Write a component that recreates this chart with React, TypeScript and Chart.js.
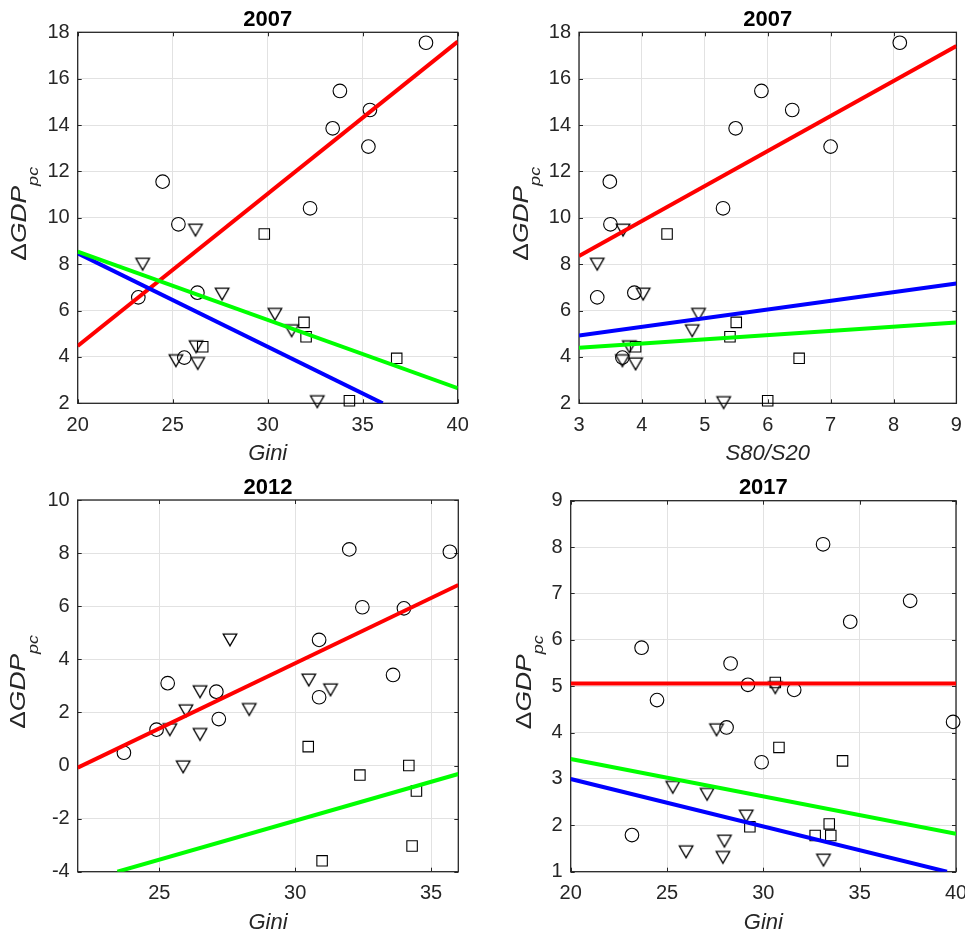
import React, { useEffect, useRef } from 'react';
import { Chart, registerables } from 'chart.js';

Chart.register(...registerables);

type Pt = [number, number];

// ---------- Panel 1: 2007, Gini ----------
const gini07Circles: Pt[] = [
  [38.33, 17.55], [33.8, 15.47], [33.42, 13.86], [35.38, 14.65], [35.3, 13.07],
  [24.47, 11.56], [32.23, 10.41], [25.3, 9.72], [23.19, 6.57], [26.3, 6.77], [25.61, 3.97],
];
const gini07Triangles: Pt[] = [
  [26.2, 9.47], [23.42, 8.0], [27.6, 6.71], [30.38, 5.84], [31.26, 5.13],
  [26.23, 4.44], [25.17, 3.84], [26.32, 3.72], [32.61, 2.07],
];
const gini07Squares: Pt[] = [
  [29.82, 9.3], [31.91, 5.49], [32.02, 4.87], [26.58, 4.44], [36.79, 3.94], [34.3, 2.11],
];
const gini07Red: Pt[] = [[20, 4.47], [40, 17.6]];
const gini07Blue: Pt[] = [[20, 8.47], [36.05, 2.0]];
const gini07Green: Pt[] = [[20, 8.54], [40, 2.65]];

// ---------- Panel 2: 2007, S80/S20 ----------
const s8007Circles: Pt[] = [
  [8.1, 17.55], [5.9, 15.47], [5.49, 13.86], [6.39, 14.65], [7.0, 13.07],
  [3.49, 11.56], [5.29, 10.41], [3.5, 9.72], [3.29, 6.57], [3.88, 6.77], [3.69, 3.97],
];
const s8007Triangles: Pt[] = [
  [3.7, 9.47], [3.29, 8.0], [4.02, 6.71], [4.9, 5.84], [4.8, 5.13],
  [3.8, 4.44], [3.69, 3.84], [3.9, 3.7], [5.3, 2.03],
];
const s8007Squares: Pt[] = [
  [4.4, 9.3], [5.5, 5.49], [5.4, 4.87], [3.9, 4.44], [6.5, 3.94], [6.0, 2.11],
];
const s8007Red: Pt[] = [[3, 8.35], [9, 17.41]];
const s8007Blue: Pt[] = [[3, 4.92], [9, 7.17]];
const s8007Green: Pt[] = [[3, 4.4], [9, 5.48]];

// ---------- Panel 3: 2012, Gini ----------
const gini12Circles: Pt[] = [
  [31.99, 8.14], [35.69, 8.05], [32.47, 5.96], [34.0, 5.92], [30.88, 4.73], [25.31, 3.1],
  [33.6, 3.41], [27.1, 2.78], [30.88, 2.57], [24.9, 1.35], [27.19, 1.75], [23.7, 0.48],
];
const gini12Triangles: Pt[] = [
  [27.6, 4.73], [30.5, 3.22], [26.5, 2.78], [31.3, 2.85], [25.98, 2.06],
  [28.31, 2.11], [25.39, 1.35], [26.5, 1.17], [25.88, -0.05],
];
const gini12Squares: Pt[] = [
  [30.48, 0.71], [34.18, 0.0], [32.38, -0.36], [34.46, -0.96], [34.3, -3.03], [30.99, -3.59],
];
const gini12Red: Pt[] = [[22, -0.08], [36, 6.8]];
const gini12Green: Pt[] = [[23.46, -4], [36, -0.32]];

// ---------- Panel 4: 2017, Gini ----------
const gini17Circles: Pt[] = [
  [33.1, 8.06], [37.62, 6.84], [34.51, 6.39], [23.68, 5.83], [28.3, 5.49], [29.2, 5.03],
  [31.6, 4.92], [24.48, 4.7], [39.85, 4.23], [28.09, 4.11], [29.91, 3.36], [23.18, 1.79],
];
const gini17Triangles: Pt[] = [
  [30.62, 4.97], [27.57, 4.06], [25.3, 2.82], [27.08, 2.67], [29.11, 2.2],
  [27.98, 1.66], [25.99, 1.43], [27.9, 1.31], [33.12, 1.25],
];
const gini17Squares: Pt[] = [
  [30.62, 5.08], [30.81, 3.68], [34.11, 3.39], [29.3, 1.97], [33.42, 2.03], [32.69, 1.78], [33.5, 1.78],
];
const gini17Red: Pt[] = [[20, 5.06], [40, 5.06]];
const gini17Blue: Pt[] = [[20, 3.0], [39.53, 1.0]];
const gini17Green: Pt[] = [[20, 3.43], [40, 1.82]];

// ---------- Ticks ----------
const giniTicks = [20, 25, 30, 35, 40];
const s80Ticks = [3, 4, 5, 6, 7, 8, 9];
const gini12Ticks = [25, 30, 35];
const y07Ticks = [2, 4, 6, 8, 10, 12, 14, 16, 18];
const y12Ticks = [-4, -2, 0, 2, 4, 6, 8, 10];
const y17Ticks = [1, 2, 3, 4, 5, 6, 7, 8, 9];

const RED = '#ff0000';
const BLUE = '#0000ff';
const GREEN = '#00ff00';

const FONT = '"Liberation Sans", Arial, Helvetica, sans-serif';
const TEXT = '#262626';
const GRID = '#e2e2e2';

interface Fit { color: string; pts: Pt[] }
interface PanelSpec {
  title: string;
  xLabel: string;
  xMin: number; xMax: number; yMin: number; yMax: number;
  xTicks: number[]; yTicks: number[];
  circles: Pt[]; triangles: Pt[]; squares: Pt[];
  fits: Fit[];
  box: { left: number; top: number; width: number; height: number };
  plot: { left: number; top: number; right: number; bottom: number };
  yLabelCapLeft: number;
}

const panels: PanelSpec[] = [
  {
    title: '2007', xLabel: 'Gini', xMin: 20, xMax: 40, yMin: 2, yMax: 18,
    xTicks: giniTicks, yTicks: y07Ticks,
    circles: gini07Circles, triangles: gini07Triangles, squares: gini07Squares,
    fits: [{ color: RED, pts: gini07Red }, { color: BLUE, pts: gini07Blue }, { color: GREEN, pts: gini07Green }],
    box: { left: 0, top: 0, width: 480, height: 460 },
    plot: { left: 77.7, top: 32.3, right: 457.7, bottom: 403.3 },
    yLabelCapLeft: 10,
  },
  {
    title: '2007', xLabel: 'S80/S20', xMin: 3, xMax: 9, yMin: 2, yMax: 18,
    xTicks: s80Ticks, yTicks: y07Ticks,
    circles: s8007Circles, triangles: s8007Triangles, squares: s8007Squares,
    fits: [{ color: RED, pts: s8007Red }, { color: BLUE, pts: s8007Blue }, { color: GREEN, pts: s8007Green }],
    box: { left: 480, top: 0, width: 485, height: 460 },
    plot: { left: 579, top: 32.3, right: 959, bottom: 403.3 },
    yLabelCapLeft: 512,
  },
  {
    title: '2012', xLabel: 'Gini', xMin: 22, xMax: 36, yMin: -4, yMax: 10,
    xTicks: gini12Ticks, yTicks: y12Ticks,
    circles: gini12Circles, triangles: gini12Triangles, squares: gini12Squares,
    fits: [{ color: RED, pts: gini12Red }, { color: GREEN, pts: gini12Green }],
    box: { left: 0, top: 460, width: 480, height: 472 },
    plot: { left: 77.7, top: 500, right: 458.3, bottom: 871.7 },
    yLabelCapLeft: 9.5,
  },
  {
    title: '2017', xLabel: 'Gini', xMin: 20, xMax: 40, yMin: 1, yMax: 9,
    xTicks: giniTicks, yTicks: y17Ticks,
    circles: gini17Circles, triangles: gini17Triangles, squares: gini17Squares,
    fits: [{ color: RED, pts: gini17Red }, { color: BLUE, pts: gini17Blue }, { color: GREEN, pts: gini17Green }],
    box: { left: 480, top: 460, width: 485, height: 472 },
    plot: { left: 570.7, top: 500.7, right: 956, bottom: 871.7 },
    yLabelCapLeft: 515,
  },
];

function makeTriangle(): HTMLCanvasElement {
  const c = document.createElement('canvas');
  const w = 18, h = 16;
  c.width = w; c.height = h;
  const g = c.getContext('2d')!;
  g.strokeStyle = '#000';
  g.lineWidth = 1.25;
  g.lineJoin = 'miter';
  const tw = 13.6, th = 11.8;
  const cx = w / 2, cy = h / 2;
  g.beginPath();
  g.moveTo(cx - tw / 2, cy - th / 2);
  g.lineTo(cx + tw / 2, cy - th / 2);
  g.lineTo(cx, cy + th / 2);
  g.closePath();
  g.stroke();
  return c;
}

const toXY = (pts: Pt[]) => pts.map(([x, y]) => ({ x, y }));

function Panel({ spec }: { spec: PanelSpec }) {
  const ref = useRef<HTMLCanvasElement | null>(null);

  useEffect(() => {
    const canvas = ref.current;
    if (!canvas) return;
    const { box, plot } = spec;
    const pl = plot.left - box.left;
    const pt = plot.top - box.top;
    const pr = plot.right - box.left;
    const pb = plot.bottom - box.top;
    const tri = makeTriangle();

    const decor = {
      id: 'decor',
      beforeDatasetsDraw(chart: any) {
        const { ctx, chartArea: a } = chart;
        const xs = chart.scales.x, ys = chart.scales.y;
        const TL = 4;
        ctx.save();
        ctx.strokeStyle = TEXT;
        ctx.lineWidth = 1;
        ctx.beginPath();
        for (const v of spec.xTicks) {
          const px = Math.round(xs.getPixelForValue(v)) + 0.5;
          ctx.moveTo(px, a.bottom); ctx.lineTo(px, a.bottom - TL);
          ctx.moveTo(px, a.top); ctx.lineTo(px, a.top + TL);
        }
        for (const v of spec.yTicks) {
          const py = Math.round(ys.getPixelForValue(v)) + 0.5;
          ctx.moveTo(a.left, py); ctx.lineTo(a.left + TL, py);
          ctx.moveTo(a.right, py); ctx.lineTo(a.right - TL, py);
        }
        ctx.stroke();
        ctx.lineWidth = 1.3;
        ctx.strokeRect(a.left, a.top, a.right - a.left, a.bottom - a.top);
        ctx.restore();
      },
      afterDraw(chart: any) {
        const { ctx, chartArea: a } = chart;
        const cx = (a.left + a.right) / 2;
        const cy = (a.top + a.bottom) / 2;
        ctx.save();
        // title
        ctx.fillStyle = '#000';
        ctx.font = `bold 22px ${FONT}`;
        ctx.textAlign = 'center';
        ctx.textBaseline = 'alphabetic';
        ctx.fillText(spec.title, cx, a.top - 6.3);
        // x label
        ctx.fillStyle = TEXT;
        ctx.font = `italic 22px ${FONT}`;
        ctx.fillText(spec.xLabel, cx, a.bottom + 57);
        // y label: ΔGDP_pc rotated
        const STRETCH = 1.2;
        const capLeft = spec.yLabelCapLeft - box.left;
        ctx.translate(capLeft + 15.7, cy - 4);
        ctx.rotate(-Math.PI / 2);
        ctx.scale(STRETCH, 1);
        ctx.textAlign = 'left';
        ctx.font = `22px ${FONT}`;
        const wD = ctx.measureText('\u0394').width;
        ctx.font = `italic 22px ${FONT}`;
        const wG = ctx.measureText('GDP').width;
        ctx.font = `italic 15px ${FONT}`;
        const wS = ctx.measureText('pc').width;
        const total = wD + wG + wS;
        let x0 = -total / 2;
        ctx.font = `22px ${FONT}`;
        ctx.fillText('\u0394', x0, 0);
        x0 += wD;
        ctx.font = `italic 22px ${FONT}`;
        ctx.fillText('GDP', x0, 0);
        x0 += wG;
        ctx.font = `italic 15px ${FONT}`;
        ctx.fillText('pc', x0, 12.5);
        ctx.restore();
      },
    };

    const fitSets = [...spec.fits].reverse().map((f) => ({
      type: 'scatter' as const,
      data: toXY(f.pts),
      showLine: true,
      borderColor: f.color,
      backgroundColor: f.color,
      borderWidth: 4,
      pointRadius: 0,
      pointHoverRadius: 0,
      fill: false,
      clip: 0,
    }));

    const markerBase = {
      type: 'scatter' as const,
      borderColor: '#000',
      backgroundColor: 'rgba(0,0,0,0)',
      borderWidth: 1.1,
      clip: false as const,
      showLine: false,
    };

    const chart = new Chart(canvas, {
      type: 'scatter',
      data: {
        datasets: [
          ...fitSets,
          { ...markerBase, data: toXY(spec.circles), pointStyle: 'circle', pointRadius: 6.8 },
          { ...markerBase, data: toXY(spec.triangles), pointStyle: tri as any, pointRadius: 7.5 },
          { ...markerBase, data: toXY(spec.squares), pointStyle: 'rect', pointRadius: 7.4 },
        ] as any,
      },
      options: {
        responsive: false,
        maintainAspectRatio: false,
        animation: false,
        devicePixelRatio: 1,
        events: [],
        layout: { padding: { left: 0, top: pt, right: box.width - pr, bottom: 0 } },
        plugins: {
          legend: { display: false },
          tooltip: { enabled: false },
          title: { display: false },
        },
        scales: {
          x: {
            type: 'linear',
            position: 'bottom',
            min: spec.xMin,
            max: spec.xMax,
            afterBuildTicks: (s: any) => { s.ticks = spec.xTicks.map((v) => ({ value: v })); },
            afterFit: (s: any) => { s.height = box.height - pb; s.paddingLeft = 0; s.paddingRight = 0; },
            grid: { color: GRID, lineWidth: 1, drawTicks: false },
            border: { display: false },
            ticks: {
              autoSkip: false, maxRotation: 0, minRotation: 0, padding: 10,
              color: TEXT, font: { family: FONT, size: 20 },
              callback: (v: any) => String(v),
            },
          },
          y: {
            type: 'linear',
            position: 'left',
            min: spec.yMin,
            max: spec.yMax,
            afterBuildTicks: (s: any) => { s.ticks = spec.yTicks.map((v) => ({ value: v })); },
            afterFit: (s: any) => { s.width = pl; s.paddingTop = 0; s.paddingBottom = 0; },
            grid: { color: GRID, lineWidth: 1, drawTicks: false },
            border: { display: false },
            ticks: {
              autoSkip: false, padding: 8,
              color: TEXT, font: { family: FONT, size: 20 },
              callback: (v: any) => String(v),
            },
          },
        },
      } as any,
      plugins: [decor],
    });

    return () => chart.destroy();
  }, [spec]);

  return (
    <canvas
      ref={ref}
      width={spec.box.width}
      height={spec.box.height}
      style={{
        position: 'absolute',
        left: spec.box.left,
        top: spec.box.top,
        width: spec.box.width,
        height: spec.box.height,
        display: 'block',
      }}
    />
  );
}

export default function App() {
  return (
    <div style={{ position: 'absolute', left: 0, top: 0, width: 965, height: 932, background: '#fff', overflow: 'hidden' }}>
      {panels.map((p, i) => (
        <Panel key={i} spec={p} />
      ))}
    </div>
  );
}
